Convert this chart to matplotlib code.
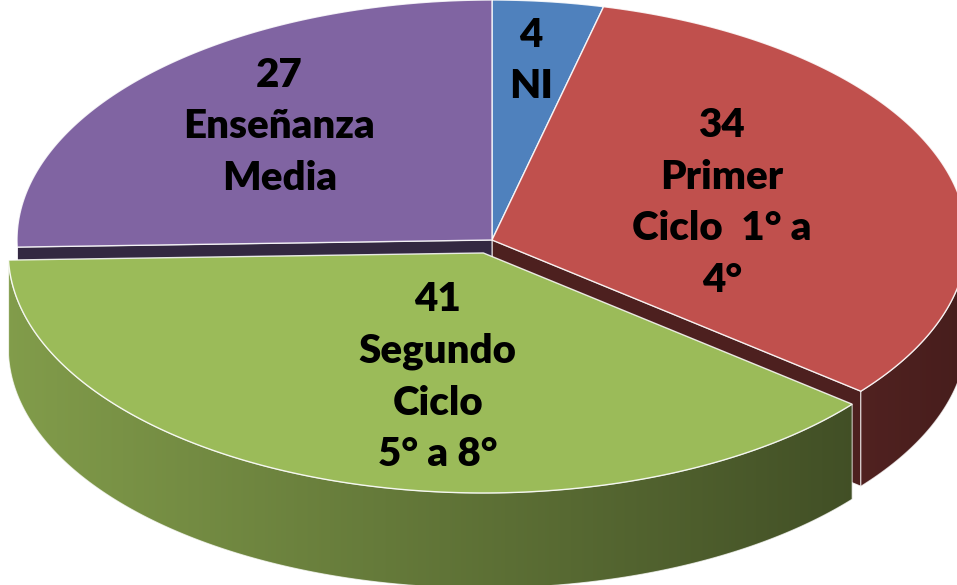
import numpy as np
import matplotlib
matplotlib.use('Agg')
import matplotlib.pyplot as plt
from matplotlib.patches import Polygon
from matplotlib.colors import to_rgb

# ---- data ----
categories = ['NI', 'Primer Ciclo 1° a 4°', 'Segundo Ciclo 5° a 8°', 'Enseñanza Media']
values = [4, 34, 41, 27]
labels = ['4\nNI', '34\nPrimer\nCiclo  1° a\n4°', '41\nSegundo\nCiclo\n5° a 8°', '27\nEnseñanza\nMedia']
colors = ['#4f81bd', '#c0504d', '#9bbb59', '#8064a2']
explode = [0, 0, 0.057, 0]
label_xy = [(0.082, 0.746), (0.484, 0.154), (-0.114, -0.571), (-0.448, 0.471)]

START = 90.0
DEPTH = 0.396

fig = plt.figure(figsize=(9.57, 5.85), dpi=100)
ax = fig.add_axes([0, 0, 1, 1])
XL = (-492 / 475, 465 / 475)
YL = (-345 / 240, 1.0)
ax.set_xlim(*XL)
ax.set_ylim(*YL)
ax.axis('off')

total = float(sum(values))
spans = [v / total * 360.0 for v in values]
wedges = []
cur = START
for i, s in enumerate(spans):
    a, b = cur - s, cur  # math interval [a, b]
    mid = np.deg2rad((a + b) / 2)
    off = (explode[i] * np.cos(mid), explode[i] * np.sin(mid))
    wedges.append((a, b, off))
    cur -= s


def rim(t, off, dz=0.0):
    r = np.deg2rad(t)
    return np.cos(r) + off[0], np.sin(r) + off[1] - dz


def shade(c, f):
    r, g, b = to_rgb(c)
    return (r * f, g * f, b * f)


def front_ranges(a, b):
    out = []
    for k in (-360, 0, 360):
        lo, hi = max(a + k, -180), min(b + k, 0)
        if hi > lo:
            out.append((lo, hi))
    return out


def gradient_fill(poly_pts, col, z):
    poly = Polygon(poly_pts, closed=True, facecolor='none', edgecolor='none', zorder=z)
    ax.add_patch(poly)
    xs = np.linspace(XL[0], XL[1], 600)
    f = np.clip(0.60 - 0.232 * xs, 0.3, 1.0)
    rgb = np.array(to_rgb(col))
    img = (f[None, :, None] * rgb[None, None, :])
    img = np.repeat(img, 2, axis=0)
    im = ax.imshow(img, extent=(XL[0], XL[1], YL[0], YL[1]), origin='lower',
                   aspect='auto', interpolation='bilinear', zorder=z)
    im.set_clip_path(poly)
    ax.add_patch(Polygon(poly_pts, closed=True, fill=False,
                         edgecolor=(1, 1, 1, 0.7), lw=0.8, zorder=z + 0.01))


def draw_walls(i, z):
    a, b, off = wedges[i]
    col = colors[i]
    n = len(wedges)
    prev_i, next_i = (i + 1) % n, (i - 1) % n
    for t, nb, normal in ((a, prev_i, a - 90), (b, next_i, b + 90)):
        if np.sin(np.deg2rad(normal)) < 0 and wedges[nb][2] != off:
            x1, y1 = rim(t, off)
            x2, y2 = rim(t, off, DEPTH)
            pts = [(off[0], off[1]), (x1, y1), (x2, y2), (off[0], off[1] - DEPTH)]
            ax.add_patch(Polygon(pts, closed=True, facecolor=shade(col, 0.40),
                                 edgecolor=(1, 1, 1, 0.8), lw=0.8, zorder=z))
    for lo, hi in front_ranges(a, b):
        ts = np.linspace(lo, hi, 200)
        top = [rim(t, off) for t in ts]
        bot = [rim(t, off, DEPTH) for t in ts[::-1]]
        gradient_fill(top + bot, col, z + 0.1)


def draw_top(i, z):
    a, b, off = wedges[i]
    ts = np.linspace(a, b, 300)
    pts = [(off[0], off[1])] + [rim(t, off) for t in ts]
    ax.add_patch(Polygon(pts, closed=True, facecolor=colors[i],
                         edgecolor=(1, 1, 1, 0.85), lw=1.0, zorder=z))


order_flat = [i for i in range(len(values)) if explode[i] == 0]
order_expl = [i for i in range(len(values)) if explode[i] != 0]
for i in order_flat:
    draw_walls(i, 1)
for i in order_flat:
    draw_top(i, 2)
for i in order_expl:
    draw_walls(i, 3)
    draw_top(i, 4)

for i, (lab, (x, y)) in enumerate(zip(labels, label_xy)):
    ax.text(x, y, lab, ha='center', va='center', fontsize=29, fontweight='heavy',
            family=['Lato', 'DejaVu Sans'], color='black', linespacing=1.49, zorder=10)

fig.savefig('out.png', dpi=100)
